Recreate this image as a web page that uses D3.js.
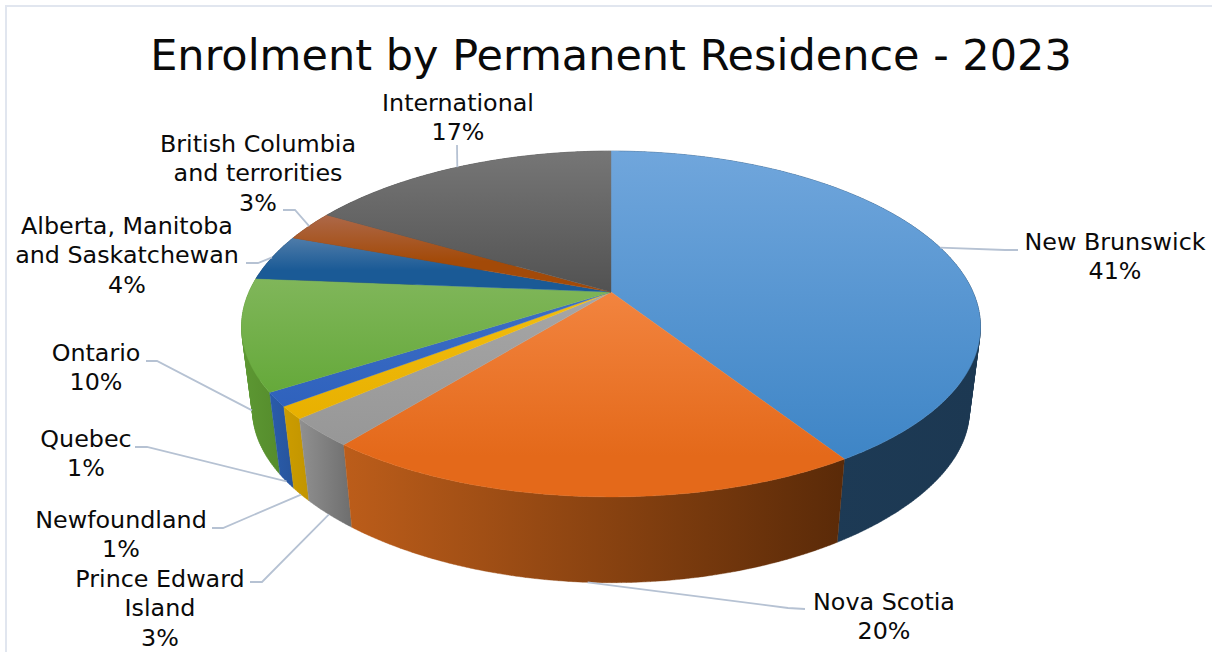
<!DOCTYPE html>
<html>
<head>
<meta charset="utf-8">
<script src="https://cdn.jsdelivr.net/npm/d3@7/dist/d3.min.js"></script>
<style>
html,body{margin:0;padding:0;background:#fff;overflow:hidden}
svg{display:block}
text{font-family:"DejaVu Sans",sans-serif;fill:#0a0a0a}
</style>
</head>
<body>
<svg id="chart" width="1212" height="652"></svg>
<script>
// ---- data ----
const chartTitle = "Enrolment by Permanent Residence - 2023";
const categories = ["New Brunswick","Nova Scotia","Prince Edward Island","Newfoundland","Quebec","Ontario","Alberta, Manitoba and Saskatchewan","British Columbia and terrorities","International"];
const shares = [41.0,19.7,2.7,1.2,1.3,10.4,4.3,2.8,16.6];

// ---- style ----
const labelLines = [["New Brunswick"],["Nova Scotia"],["Prince Edward","Island"],["Newfoundland"],["Quebec"],["Ontario"],["Alberta, Manitoba","and Saskatchewan"],["British Columbia","and terrorities"],["International"]];
const topLight = ["#70a6dc","#f2843f","#a6a6a6","#f2bd10","#3d6ec6","#80b65a","#4f7ca9","#ad6849","#767676"];
const topDark  = ["#3e85c6","#e4691a","#979797","#e8b000","#2f62bd","#65a93a","#1a5a96","#a34a08","#525252"];
const darkStop = [1,0.8,1,1,1,1,0.6,0.6,1];
const sideLeft = ["#1e3d59","#bc5d1a","#909090","#cc9c00","#2a5cab","#5d9833","#133f6a","#732f05","#3a3a3a"];
const sideRight= ["#1c3852","#5a2a08","#6e6e6e","#c29500","#27549c","#558c2c","#133f6a","#732f05","#3a3a3a"];

// ---- layout ----
const labelX = [1115,884,160,121,86,96,127,258,458];
const labelY = [250,610,587,528,447,361,234,152,111];
const lineGap = 29.3;
const anchorDepth = [0,1,1,1,1,0.9,0,0,0];        // 0 = top rim, 1 = bottom rim
const leaderElbow = [[1005,250],[788,608],[262,582],[223,528],[147,447],[157,361],[258,263],[295,210],[457,145]];
const leaderEnd   = [[1018,250],[805,609],[250,582],[212,528],[135,447],[146,361],[246,263],[283,210],[457,145]];

const cx = 611;
const topFace = {cy:292,R:362,S:167,kx:0.2,ky:0.185};
const botFace = {cy:380,R:351,S:150,kx:0.2,ky:0.26};

function project(f,a){
  const u=Math.sin(a), v=-Math.cos(a);
  return [cx+f.R*u/(1-f.kx*v), f.cy+f.S*v/(1-f.ky*v)];
}
const pie = d3.pie().sort(null).value(d=>d);
const arcs = pie(shares);
const sample = (a0,a1)=>{
  const n=Math.max(2,Math.ceil((a1-a0)*90));
  return d3.range(n+1).map(i=>a0+(a1-a0)*i/n);
};

const svg = d3.select("#chart");
const line = d3.line();
const defs = svg.append("defs");

// frame
svg.append("path").attr("d","M1212,6H6V652").attr("fill","none").attr("stroke","#e1e6ef").attr("stroke-width",2);

// title
svg.append("text").attr("x",611).attr("y",69.5).attr("text-anchor","middle").attr("font-size",43).text(chartTitle);

// gradients
arcs.forEach((d,i)=>{
  const g=defs.append("linearGradient").attr("id","top"+i).attr("x1",0).attr("y1",0).attr("x2",0).attr("y2",1);
  g.append("stop").attr("offset",0).attr("stop-color",topLight[i]);
  g.append("stop").attr("offset",darkStop[i]).attr("stop-color",topDark[i]);
  const s=defs.append("linearGradient").attr("id","side"+i).attr("x1",0).attr("y1",0).attr("x2",1).attr("y2",0);
  s.append("stop").attr("offset",0).attr("stop-color",sideLeft[i]);
  s.append("stop").attr("offset",1).attr("stop-color",sideRight[i]);
});

// side walls, back to front; each wall is a strip of quads so the silhouette stays straight
const order = d3.range(arcs.length).sort((a,b)=>{
  const m=i=>-Math.cos((arcs[i].startAngle+arcs[i].endAngle)/2);
  return m(a)-m(b);
});
svg.append("g").selectAll("path").data(order).join("path")
  .attr("d",i=>{
    const as=sample(arcs[i].startAngle,arcs[i].endAngle);
    return d3.pairs(as).map(([a,b])=>{
      const q=[project(topFace,a),project(topFace,b),project(botFace,b),project(botFace,a)];
      if(d3.polygonArea(q)<0) q.reverse();
      return line(q)+"Z";
    }).join("");
  })
  .attr("fill",i=>`url(#side${i})`)
  .attr("stroke",i=>`url(#side${i})`).attr("stroke-width",0.4);

// top face
svg.append("g").selectAll("path").data(arcs).join("path")
  .attr("d",d=>line([[cx,topFace.cy]].concat(sample(d.startAngle,d.endAngle).map(a=>project(topFace,a))))+"Z")
  .attr("fill",(d,i)=>`url(#top${i})`)
  .attr("stroke",(d,i)=>`url(#top${i})`).attr("stroke-width",0.4);

// leader lines
svg.append("g").selectAll("path").data(arcs).join("path")
  .attr("d",(d,i)=>{
    const m=(d.startAngle+d.endAngle)/2, a=project(topFace,m), b=project(botFace,m), t=anchorDepth[i];
    return line([[a[0]+(b[0]-a[0])*t,a[1]+(b[1]-a[1])*t],leaderElbow[i],leaderEnd[i]]);
  })
  .attr("fill","none").attr("stroke","#b6c2d3").attr("stroke-width",1.8);

// labels
const pct = d3.format(".0f");
const lab = svg.append("g").selectAll("text").data(arcs).join("text")
  .attr("text-anchor","middle").attr("font-size",23.8);
lab.each(function(d,i){
  const lines=labelLines[i].concat([pct(shares[i])+"%"]);
  d3.select(this).selectAll("tspan").data(lines).join("tspan")
    .attr("x",labelX[i]).attr("y",(l,k)=>labelY[i]+k*lineGap).text(l=>l);
});
</script>
</body>
</html>
